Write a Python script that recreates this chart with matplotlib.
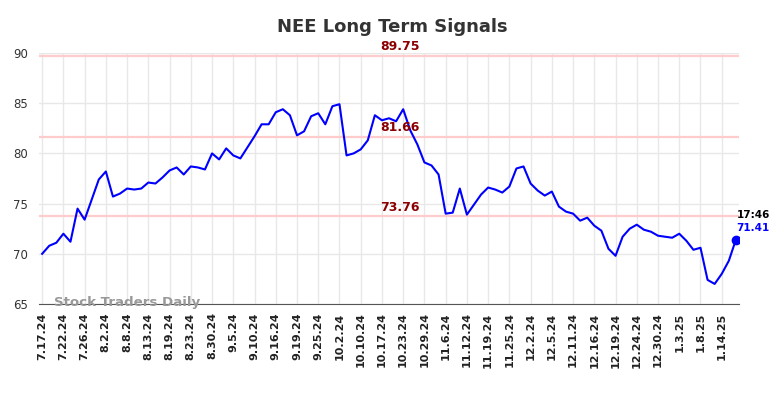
import matplotlib
matplotlib.use("Agg")
import matplotlib.pyplot as plt
import numpy as np

# ------------------------ données
ticker = "NEE"
prix = [70.0, 70.8, 71.1, 72.0, 71.2, 74.5, 73.4, 75.4, 77.4, 78.2,
        75.7, 76.0, 76.5, 76.4, 76.5, 77.1, 77.0, 77.6, 78.3, 78.6,
        77.9, 78.7, 78.6, 78.4, 80.0, 79.4, 80.5, 79.8, 79.5, 80.6,
        81.7, 82.9, 82.9, 84.1, 84.4, 83.8, 81.8, 82.2, 83.7, 84.0,
        82.9, 84.7, 84.9, 79.8, 80.0, 80.4, 81.3, 83.8, 83.3, 83.5,
        83.2, 84.4, 82.3, 80.9, 79.1, 78.8, 77.9, 74.0, 74.1, 76.5,
        73.9, 74.9, 75.9, 76.6, 76.4, 76.1, 76.7, 78.5, 78.7, 77.0,
        76.3, 75.8, 76.2, 74.7, 74.2, 74.0, 73.3, 73.6, 72.8, 72.3,
        70.5, 69.8, 71.7, 72.5, 72.9, 72.4, 72.2, 71.8, 71.7, 71.6,
        72.0, 71.3, 70.4, 70.6, 67.4, 67.0, 68.0, 69.3, 71.41]

etiquettes_dates = ['7.17.24', '7.22.24', '7.26.24', '8.2.24', '8.8.24', '8.13.24',
                    '8.19.24', '8.23.24', '8.30.24', '9.5.24', '9.10.24', '9.16.24',
                    '9.19.24', '9.25.24', '10.2.24', '10.10.24', '10.17.24',
                    '10.23.24', '10.29.24', '11.6.24', '11.12.24', '11.19.24',
                    '11.25.24', '12.2.24', '12.5.24', '12.11.24', '12.16.24',
                    '12.19.24', '12.24.24', '12.30.24', '1.3.25', '1.8.25', '1.14.25']

signaux = [89.75, 81.66, 73.76]
heure = "17:46"

# ------------------------ figure
fig = plt.figure(figsize=(7.84, 3.98), dpi=100)
ax = fig.add_axes([0.0497, 0.2362, 0.893, 0.6306])

x = np.arange(len(prix))
ax.plot(x, prix, color='blue', lw=1.5, zorder=3)
ax.plot(x[-1], prix[-1], 'o', color='blue', ms=6, zorder=4)

# lignes des signaux
for s in signaux:
    ax.axhline(s, color='#ffcccc', lw=1.6, zorder=2)
    ax.text(50.5, s + 0.25, '%.2f' % s, color='#8b0000', fontsize=9,
            fontweight='bold', ha='center', va='bottom', zorder=5)

# annotation du dernier point
ax.text(98.1, prix[-1] + 2.45, heure, color='black', fontsize=7.5,
        fontweight='bold', ha='left', va='center')
ax.text(98.1, prix[-1] + 1.15, '%.2f' % prix[-1], color='blue', fontsize=7.5,
        fontweight='bold', ha='left', va='center')

ax.text(0.021, 0.005, 'Stock Traders Daily', transform=ax.transAxes,
        color='#999999', fontsize=9.6, fontweight='bold', ha='left', va='center')

ax.set_xlim(-0.45, 98.45)
ax.set_ylim(65, 90)
ax.set_yticks(np.arange(65, 91, 5))
ax.set_xticks(np.arange(0, 3 * len(etiquettes_dates), 3))
ax.set_xticklabels(etiquettes_dates, rotation=90, fontsize=8, fontweight='bold',
                   color='#222222')
ax.tick_params(axis='y', labelsize=8.5, labelcolor='#333333', length=0, pad=8)
ax.tick_params(axis='x', length=0, pad=6)
ax.grid(color='#e8e8e8', lw=1)
ax.set_axisbelow(True)
for cote in ['top', 'right', 'left']:
    ax.spines[cote].set_visible(False)
ax.spines['bottom'].set_color('#555555')

fig.suptitle('%s Long Term Signals' % ticker, x=0.5, y=0.955, fontsize=13,
             fontweight='bold', color='#333333')

fig.savefig('out.png', dpi=100)
